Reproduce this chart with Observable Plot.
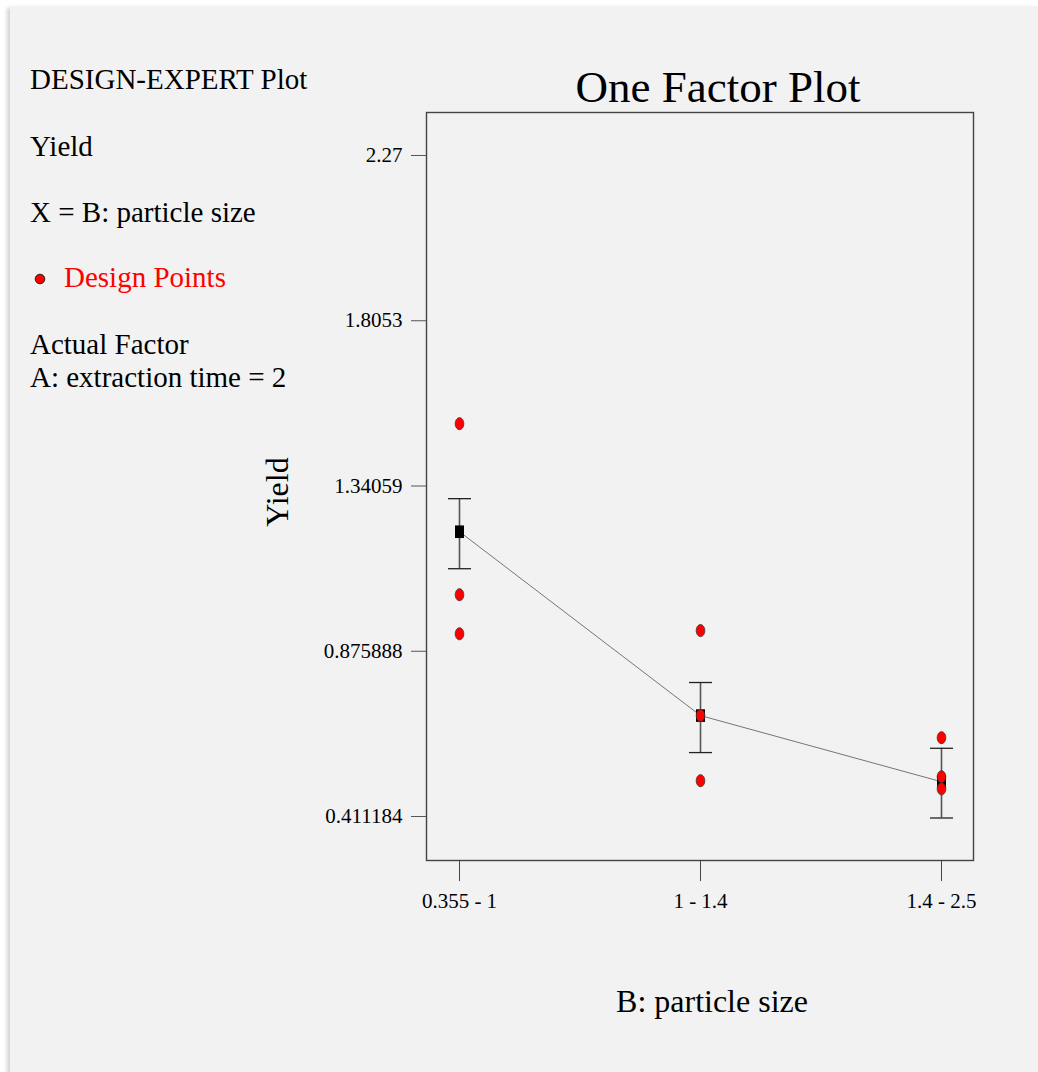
<!DOCTYPE html>
<html><head><meta charset="utf-8">
<script src="https://cdn.jsdelivr.net/npm/d3@7"></script>
<script src="https://cdn.jsdelivr.net/npm/@observablehq/plot@0.6"></script>
<style>
body{margin:0;background:#fff;width:1038px;height:1072px;overflow:hidden;position:relative;font-family:"Liberation Serif","Times New Roman",serif;}
#panel{position:absolute;left:10px;top:6px;right:0;bottom:0;background:#f2f2f2;box-shadow:-3px 2px 4px rgba(0,0,0,0.18);}
.t{position:absolute;line-height:1;white-space:nowrap;color:#000;}
#chart{position:absolute;left:0;top:0;}
</style></head><body>
<div id="panel"></div>
<div id="chart"></div>
<div class="t" style="left:30px;top:65px;font-size:29px">DESIGN-EXPERT Plot</div>
<div class="t" style="left:30px;top:132px;font-size:29px">Yield</div>
<div class="t" style="left:30px;top:198px;font-size:29px">X = B: particle size</div>
<svg style="position:absolute;left:33px;top:272px" width="14" height="14"><circle cx="7" cy="7" r="4.8" fill="red" stroke="#222" stroke-width="1"/></svg>
<div class="t" style="left:64px;top:263px;font-size:29px;color:#f00">Design Points</div>
<div class="t" style="left:30px;top:330px;font-size:29px">Actual Factor</div>
<div class="t" style="left:30px;top:363px;font-size:29px">A: extraction time = 2</div>
<div class="t" style="left:718px;top:65px;font-size:45px;transform:translateX(-50%)">One Factor Plot</div>
<div class="t" style="left:712px;top:985px;font-size:32px;transform:translateX(-50%)">B: particle size</div>
<div class="t" style="left:277px;top:492px;font-size:32px;transform:translate(-50%,-50%) rotate(-90deg)">Yield</div>
<script>
const categories = ["0.355 - 1", "1 - 1.4", "1.4 - 2.5"];
const pointGroup = ["0.355 - 1", "0.355 - 1", "0.355 - 1", "1 - 1.4", "1 - 1.4", "1 - 1.4", "1.4 - 2.5", "1.4 - 2.5", "1.4 - 2.5"];
const pointYield = [1.516, 1.035, 0.925, 0.934, 0.695, 0.512, 0.633, 0.523, 0.489];
const meanYield = [1.212, 0.695, 0.509];
const lowerLSD = [1.108, 0.591, 0.407];
const upperLSD = [1.305, 0.788, 0.603];
const yTicks = [0.411184, 0.875888, 1.34059, 1.8053, 2.27];
const yTickLabels = ["0.411184", "0.875888", "1.34059", "1.8053", "2.27"];

const means = categories.map((c, i) => ({cat: c, mean: meanYield[i], lo: lowerLSD[i], hi: upperLSD[i]}));
const points = pointGroup.map((c, i) => ({cat: c, y: pointYield[i]}));

const K = 0.5523;
const ellipse = {draw(ctx) {
  const rx = 4.3, ry = 6, kx = rx * K, ky = ry * K;
  ctx.moveTo(rx, 0);
  ctx.bezierCurveTo(rx, ky, kx, ry, 0, ry);
  ctx.bezierCurveTo(-kx, ry, -rx, ky, -rx, 0);
  ctx.bezierCurveTo(-rx, -ky, -kx, -ry, 0, -ry);
  ctx.bezierCurveTo(kx, -ry, rx, -ky, rx, 0);
  ctx.closePath();
}};
const square = {draw(ctx) { ctx.rect(-4.5, -6.3, 9, 12.6); }};
const cap = {draw(ctx) { ctx.moveTo(-11.5, 0); ctx.lineTo(11.5, 0); }};

const chart = Plot.plot({
  width: 1038,
  height: 1072,
  marginLeft: 426,
  marginRight: 65,
  marginTop: 112,
  marginBottom: 212,
  style: {background: "transparent", fontFamily: "'Liberation Serif','Times New Roman',serif", overflow: "visible"},
  x: {type: "point", domain: categories, padding: 0.1325, label: null},
  y: {domain: [0.2875, 2.3909], label: null},
  marks: [
    Plot.frame({stroke: "#444", strokeWidth: 1.4}),
    Plot.axisY(yTicks, {tickSize: 15, tickPadding: 9, fontSize: 21, stroke: "#555", tickFormat: (d) => yTickLabels[yTicks.indexOf(d)], label: null}),
    Plot.axisX(categories, {tickSize: 21, tickPadding: 12, fontSize: 21, stroke: "#444", label: null}),
    Plot.line(means, {x: "cat", y: "mean", stroke: "#555", strokeWidth: 0.8}),
    Plot.ruleX(means, {x: "cat", y1: "lo", y2: "hi", stroke: "#555", strokeWidth: 1.6}),
    Plot.dot(means, {x: "cat", y: "lo", symbol: cap, stroke: "#222", strokeWidth: 1.3, fill: "none"}),
    Plot.dot(means, {x: "cat", y: "hi", symbol: cap, stroke: "#222", strokeWidth: 1.3, fill: "none"}),
    Plot.dot(means, {x: "cat", y: "mean", symbol: square, fill: "#000", stroke: "none"}),
    Plot.dot(points, {x: "cat", y: "y", symbol: ellipse, fill: "red", stroke: "#333", strokeWidth: 0.8})
  ]
});
document.getElementById("chart").appendChild(chart);
</script>
</body></html>
